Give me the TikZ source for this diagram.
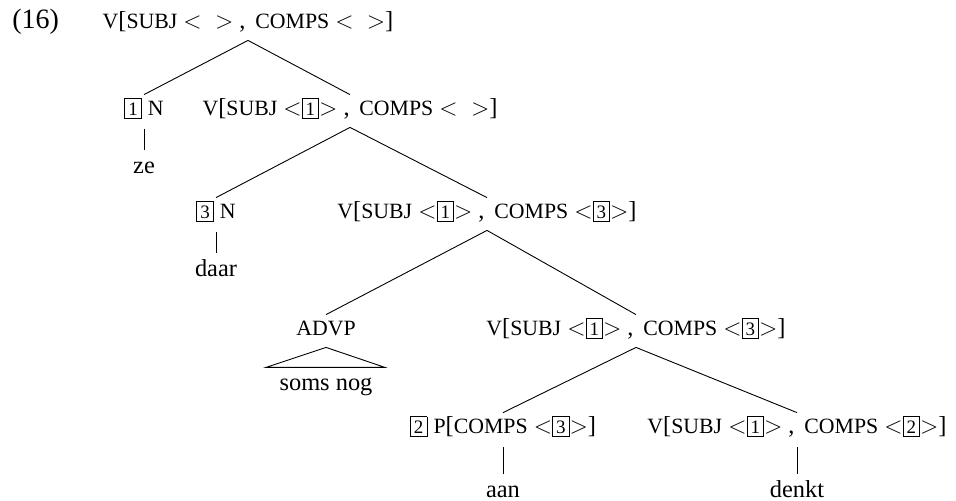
\documentclass[tikz,border=0pt]{standalone}
\usepackage{fontspec}
\setmainfont{Liberation Serif}
\newcommand\smc[1]{{\fontsize{10.9}{12}\selectfont #1}}
\newcommand\bxn[1]{{\setlength\fboxsep{1.6pt}\setlength\fboxrule{0.4pt}\fbox{\fontsize{9.5}{10}\selectfont #1}}}
\newcommand\cmm{ ,\hspace{0.4em}}
\tikzset{
  syn/.style={anchor=base,inner sep=0pt,text height=9pt,text depth=3pt},
  br/.style={line width=0.45pt},
  un/.style={line width=0.45pt},
}
\begin{document}
\begin{tikzpicture}[x=0.5pt,y=-0.5pt]
\fontsize{12.2}{14}\selectfont
\useasboundingbox (0,0) rectangle (956,500);
\node[syn,anchor=base west] (ex) at (12,28) {\fontsize{14}{16}\selectfont (16)};
\node[syn] (r) at (248,28) {\smc{V}[\smc{SUBJ} $<\;\;>$\cmm\smc{COMPS} $<\;\;>$]};
\node[syn] (n1) at (144,115) {\bxn{1} \smc{N}};
\node[syn] (n2) at (350,115) {\smc{V}[\smc{SUBJ} $<$\bxn{1}$>$\cmm\smc{COMPS} $<\;\;>$]};
\node[syn] (ze) at (144,173) {ze};
\node[syn] (n3n) at (216,218) {\bxn{3} \smc{N}};
\node[syn] (daar) at (216,276) {daar};
\node[syn] (n3) at (487,218) {\smc{V}[\smc{SUBJ} $<$\bxn{1}$>$\cmm\smc{COMPS} $<$\bxn{3}$>$]};
\node[syn] (advp) at (326,335) {\smc{ADVP}};
\node[syn] (soms) at (326,390) {soms nog};
\node[syn] (n4) at (636,335) {\smc{V}[\smc{SUBJ} $<$\bxn{1}$>$\cmm\smc{COMPS} $<$\bxn{3}$>$]};
\node[syn] (n5p) at (503,433) {\bxn{2} \smc{P}[\smc{COMPS} $<$\bxn{3}$>$]};
\node[syn] (aan) at (503,497) {aan};
\node[syn] (n5v) at (797,433) {\smc{V}[\smc{SUBJ} $<$\bxn{1}$>$\cmm\smc{COMPS} $<$\bxn{2}$>$]};
\node[syn] (denkt) at (797,497) {denkt};
% branches
\draw[br] ([yshift=-3pt]r.south) -- ([yshift=1pt]n1.north);
\draw[br] ([yshift=-3pt]r.south) -- ([yshift=1pt]n2.north);
\draw[br] ([yshift=-3pt]n2.south) -- ([yshift=1pt]n3n.north);
\draw[br] ([yshift=-3pt]n2.south) -- ([yshift=1pt]n3.north);
\draw[br] ([yshift=-3pt]n3.south) -- ([yshift=1pt]advp.north);
\draw[br] ([yshift=-3pt]n3.south) -- ([yshift=1pt]n4.north);
\draw[br] ([yshift=-3pt]n4.south) -- ([yshift=1pt]n5p.north);
\draw[br] ([yshift=-3pt]n4.south) -- ([yshift=1pt]n5v.north);
% unary
\draw[un] ([yshift=-4pt]n1.south) -- ([yshift=2.5pt]ze.north);
\draw[un] ([yshift=-4pt]n3n.south) -- ([yshift=2.5pt]daar.north);
\draw[un] ([yshift=-4pt]n5p.south) -- ([yshift=2.5pt]aan.north);
\draw[un] ([yshift=-4pt]n5v.south) -- ([yshift=2.5pt]denkt.north);
% triangle
\coordinate (tl) at ([xshift=-30pt,yshift=-13pt]advp.south);
\coordinate (tr) at ([xshift=29.5pt,yshift=-13pt]advp.south);
\draw[br] (tl) -- ([yshift=-3pt]advp.south) -- (tr) -- cycle;
\end{tikzpicture}
\end{document}
